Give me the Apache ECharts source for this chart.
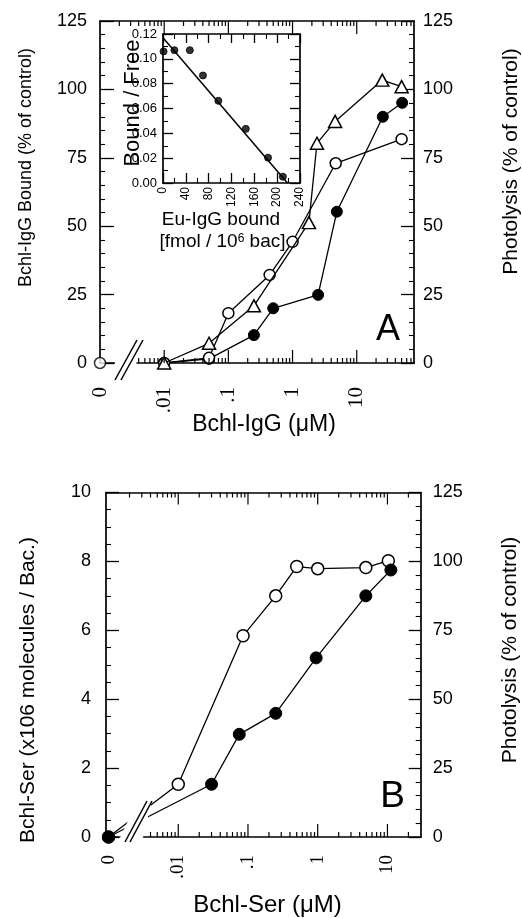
<!DOCTYPE html>
<html><head><meta charset="utf-8">
<script src="https://cdn.jsdelivr.net/npm/echarts@6/dist/echarts.min.js"></script>
<style>html,body{margin:0;padding:0;background:#fff}#c{width:522px;height:918px}</style>
</head><body><div id="c"></div>
<script>
// ===== Panel A : Bchl-IgG (µM) =====
const tickValsA = [0.001, 0.01, 0.1, 1, 10];
const tickLabelsA = ['0', '.01', '.1', '1', '10'];
// filled circles
const concFilledA = [0.01, 0.05, 0.25, 0.5, 2.5, 4.9, 25.5, 51];
const valFilledA  = [0, 1.5, 10.2, 20.0, 24.9, 55.3, 90.0, 95.1];
// open circles (first point is the "0" concentration, drawn unconnected)
const concOpenA = [0, 0.01, 0.05, 0.1, 0.44, 1.0, 4.7, 50];
const valOpenA  = [0, 0, 1.9, 18.2, 32.2, 44.3, 73.0, 81.8];
// open triangles
const concTriA = [0.01, 0.05, 0.25, 1.8, 2.4, 4.6, 25, 50];
const valTriA  = [0, 7.2, 20.9, 51.3, 80.3, 88.3, 103.4, 101.0];

// ===== Inset : Scatchard plot =====
const boundX    = [1, 20, 47, 70, 97, 145, 184, 210];
const boundFree = [0.106, 0.107, 0.107, 0.0866, 0.0662, 0.0436, 0.0204, 0.0051];
const fitX = [0, 218];
const fitY = [0.117, 0];

// ===== Panel B : Bchl-Ser (µM) =====
const tickValsB = [0.001, 0.01, 0.1, 1, 10];
const tickLabelsB = ['0', '.01', '.1', '1', '10'];
const concOpenB = [0, 0.01, 0.085, 0.25, 0.5, 1.0, 4.9, 10.3];
const valOpenB  = [0, 1.53, 5.84, 7.00, 7.85, 7.79, 7.82, 8.02];
const concFilledB = [0, 0.03, 0.075, 0.25, 0.95, 4.9, 11.2];
const valFilledB  = [0, 1.53, 2.98, 3.59, 5.20, 7.00, 7.75];

// ===== layout / style =====
const SANS = '"Liberation Sans", Arial, Helvetica, sans-serif';
const SERIF = '"Liberation Serif", "Times New Roman", serif';
const zeroPosA = 0.001, minA = 0.001, maxA = 78;
const zeroPosB = 0.001, minB = 0.00092, maxB = 30;
const gA = {left: 100, top: 21, width: 314, height: 342};
const gI = {left: 163, top: 34, width: 137, height: 149};
const gB = {left: 106, top: 492.5, width: 314.7, height: 344.5};

const chart = echarts.init(document.getElementById('c'), null, {renderer: 'canvas'});

function pairs(xs, ys, zeroPos) {
  return xs.map((x, i) => [x === 0 ? zeroPos : x, ys[i]]);
}
function labelFmt(vals, labels) {
  return function (v) {
    for (let i = 0; i < vals.length; i++) {
      if (Math.abs(Math.log10(v) - Math.log10(vals[i])) < 0.02) return labels[i];
    }
    return '';
  };
}
const AX = {color: '#000', width: 1.7};
function logX(grid, min, max, pos, vals, labels, margin, fs) {
  return {
    type: 'log', gridIndex: grid, min: min, max: max, position: pos, logBase: 10,
    axisLine: {show: true, onZero: false, lineStyle: AX},
    axisTick: {show: false}, minorTick: {show: false}, splitLine: {show: false},
    axisLabel: labels ? {show: true, rotate: 90, margin: margin, color: '#000',
      fontFamily: SERIF, fontSize: fs, formatter: labelFmt(vals, labels),
      showMinLabel: true, showMaxLabel: true} : {show: false}
  };
}
function valY(grid, min, max, interval, pos, opts) {
  return {
    type: 'value', gridIndex: grid, min: min, max: max, interval: interval, position: pos,
    axisLine: {show: true, onZero: false, lineStyle: AX},
    axisTick: {show: true, inside: true, length: opts.tick, lineStyle: {color: '#000', width: 1.3}},
    minorTick: {show: true, splitNumber: opts.split, length: opts.minor, lineStyle: {color: '#000', width: 1.1}},
    splitLine: {show: false}, minorSplitLine: {show: false},
    axisLabel: opts.label === false ? {show: false} : {show: true, color: '#000', fontFamily: SANS,
      fontSize: opts.fs, margin: opts.margin, formatter: opts.fmt, showMinLabel: true, showMaxLabel: true,
      rotate: opts.rotate || 0}
  };
}

const circleOpen = {color: '#fff', borderColor: '#000', borderWidth: 1.5};
const circleFill = {color: '#000', borderColor: '#000', borderWidth: 1};
const LS = {color: '#000', width: 1.3};

const option = {
  animation: false,
  backgroundColor: '#fff',
  textStyle: {fontFamily: SANS, color: '#000'},
  grid: [
    Object.assign({containLabel: false, outerBoundsMode: 'none'}, gA),
    Object.assign({containLabel: false, outerBoundsMode: 'none', show: true, backgroundColor: '#fff', borderWidth: 0}, gI),
    Object.assign({containLabel: false, outerBoundsMode: 'none'}, gB)
  ],
  xAxis: [
    logX(0, minA, maxA, 'bottom', tickValsA, tickLabelsA, 24, 21),
    logX(0, minA, maxA, 'top', null, null, 0, 0),
    Object.assign(valY(1, 0, 240, 40, 'bottom', {tick: 10, split: 2, minor: 5, fs: 12, margin: 4, rotate: 90}), {type: 'value'}),
    Object.assign(valY(1, 0, 240, 40, 'top', {tick: 9, split: 2, minor: 5, label: false}), {type: 'value'}),
    logX(2, minB, maxB, 'bottom', tickValsB, tickLabelsB, 18, 19),
    logX(2, minB, maxB, 'top', null, null, 0, 0)
  ],
  yAxis: [
    valY(0, 0, 125, 25, 'left', {tick: 14, split: 5, minor: 5, fs: 18, margin: 13}),
    valY(0, 0, 125, 25, 'right', {tick: 13, split: 5, minor: 5, fs: 18, margin: 9}),
    valY(1, 0, 0.12, 0.02, 'left', {tick: 10, split: 2, minor: 5, fs: 13, margin: 6, fmt: v => v.toFixed(2)}),
    valY(1, 0, 0.12, 0.02, 'right', {tick: 10, split: 2, minor: 5, label: false}),
    valY(2, 0, 10, 2, 'left', {tick: 13, split: 4, minor: 5, fs: 18, margin: 15}),
    valY(2, 0, 125, 25, 'right', {tick: 12, split: 5, minor: 5, fs: 18, margin: 12})
  ],
  series: [
    // Panel A
    {type: 'line', xAxisIndex: 0, yAxisIndex: 0, clip: false, z: 3,
     data: pairs(concFilledA, valFilledA, zeroPosA), symbol: 'circle', symbolSize: 11,
     itemStyle: circleFill, lineStyle: LS},
    {type: 'line', xAxisIndex: 0, yAxisIndex: 0, clip: false, z: 4,
     data: pairs(concOpenA, valOpenA, zeroPosA).filter((p, i) => concOpenA[i] !== 0),
     symbol: 'circle', symbolSize: 11, itemStyle: circleOpen, lineStyle: LS},
    {type: 'scatter', xAxisIndex: 0, yAxisIndex: 0, clip: false, z: 4,
     data: pairs(concOpenA, valOpenA, zeroPosA).filter((p, i) => concOpenA[i] === 0),
     symbol: 'circle', symbolSize: 11, itemStyle: circleOpen},
    {type: 'line', xAxisIndex: 0, yAxisIndex: 0, clip: false, z: 5,
     data: pairs(concTriA, valTriA, zeroPosA), symbol: 'triangle', symbolSize: [13, 12],
     itemStyle: circleOpen, lineStyle: LS},
    // Inset
    {type: 'line', xAxisIndex: 2, yAxisIndex: 2, clip: false, z: 6,
     data: fitX.map((x, i) => [x, fitY[i]]), symbol: 'none', lineStyle: {color: '#000', width: 1.5}},
    {type: 'scatter', xAxisIndex: 2, yAxisIndex: 2, clip: false, z: 7,
     data: boundX.map((x, i) => [x, boundFree[i]]), symbol: 'circle', symbolSize: 7, itemStyle: circleFill},
    // Panel B
    {type: 'line', xAxisIndex: 4, yAxisIndex: 4, clip: false, z: 3,
     data: pairs(concOpenB, valOpenB, zeroPosB), symbol: 'circle', symbolSize: 12,
     itemStyle: circleOpen, lineStyle: LS},
    {type: 'line', xAxisIndex: 4, yAxisIndex: 4, clip: false, z: 4,
     data: pairs(concFilledB, valFilledB, zeroPosB), symbol: 'circle', symbolSize: 12,
     itemStyle: circleFill, lineStyle: LS}
  ]
};
chart.setOption(option);

// ---- decorations: log-axis ticks (positions from the library's scale), axis breaks, texts ----
function logTickValues(min, max, skip) {
  const major = [], minor = [];
  for (let e = -4; e <= 3; e++) {
    const p = Math.pow(10, e);
    if (p > min * 1.0001 && p < max * 0.9999 && Math.abs(p - skip) > 1e-12) major.push(p);
    for (let k = 2; k <= 9; k++) {
      const v = k * p;
      if (v > min * 1.0001 && v < max * 0.9999) minor.push(v);
    }
  }
  return {major, minor};
}
const els = [];
function addTicks(axisIndex, vals, yBase, dir, len) {
  vals.forEach(v => {
    const x = chart.convertToPixel({xAxisIndex: axisIndex}, v);
    els.push({type: 'line', silent: true, z: 50,
      shape: {x1: x, y1: yBase, x2: x, y2: yBase + dir * len},
      style: {stroke: '#000', lineWidth: 1.2}});
  });
}
const tA = logTickValues(minA, maxA, zeroPosA);
const tB = logTickValues(minB, maxB, zeroPosB);
const yA0 = gA.top + gA.height, yB0 = gB.top + gB.height;
addTicks(0, tA.major, yA0, -1, 13); addTicks(0, tA.minor, yA0, -1, 5);
addTicks(1, tA.major, gA.top, 1, 13); addTicks(1, tA.minor, gA.top, 1, 5);
addTicks(4, tB.major, yB0, -1, 13); addTicks(4, tB.minor, yB0, -1, 5);
addTicks(5, tB.major, gB.top, 1, 12); addTicks(5, tB.minor, gB.top, 1, 5);

// axis breaks
els.push({type: 'rect', silent: true, z: 60, shape: {x: 115, y: 352, width: 21.5, height: 20},
  style: {fill: '#fff'}});
els.push({type: 'polygon', silent: true, z: 60,
  shape: {points: [[116, 846], [138, 800], [152, 800], [141, 846]]}, style: {fill: '#fff'}});
[[115, 380, 137, 340], [121, 380, 143, 340], [125, 842, 147, 801], [130, 842, 152, 801]].forEach(s => {
  els.push({type: 'line', silent: true, z: 70, shape: {x1: s[0], y1: s[1], x2: s[2], y2: s[3]},
    style: {stroke: '#000', lineWidth: 1.5}});
});

function txt(text, x, y, size, rot, extra) {
  const st = Object.assign({text: text, fill: '#000', fontSize: size, fontFamily: SANS,
    align: 'center', verticalAlign: 'middle', textAlign: 'center', textVerticalAlign: 'middle'}, extra || {});
  els.push({type: 'text', silent: true, z: 80, x: x, y: y, rotation: rot || 0, style: st});
}
const R = Math.PI / 2;
txt('Bchl-IgG Bound (% of control)', 26, 167.5, 18, R);
txt('Photolysis (% of control)', 511, 161.5, 21, R);
txt('Bchl-IgG (μM)', 264, 425, 23, 0);
txt('A', 388, 330, 36, 0);
txt('Bound / Free', 133, 103, 22, R);
txt('Eu-IgG bound', 221, 220, 19, 0);
txt('{n|[fmol / 10}{s|6}{n| bac]}', 222.5, 242, 19, 0, {rich: {
  n: {fontSize: 19, fontFamily: SANS, fill: '#000', color: '#000'},
  s: {fontSize: 12, fontFamily: SANS, fill: '#000', color: '#000', verticalAlign: 'top'}}});
txt('Bchl-Ser (x106 molecules / Bac.)', 28, 690, 21, R);
txt('Photolysis (% of control)', 510, 650, 21, R);
txt('Bchl-Ser (μM)', 267.5, 905, 24, 0);
txt('B', 392.5, 797, 37, 0);

chart.setOption({graphic: {elements: els}});
</script></body></html>
